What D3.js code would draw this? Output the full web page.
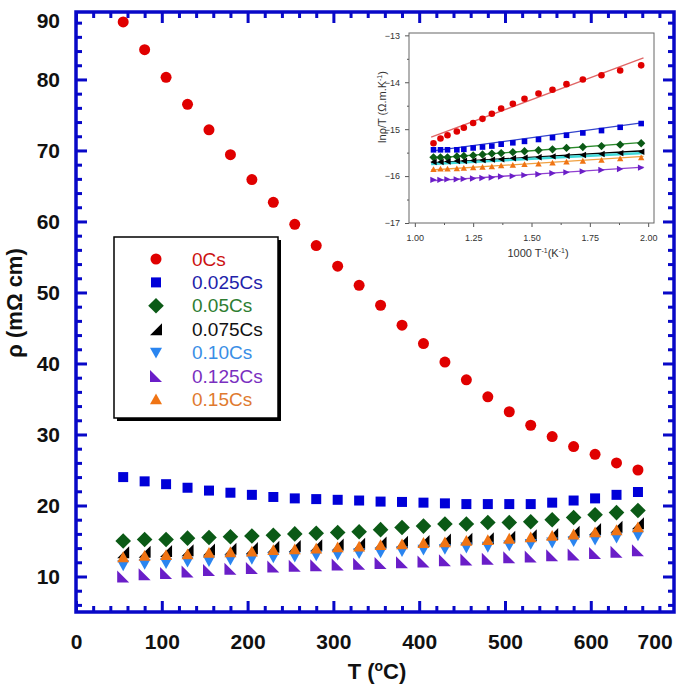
<!DOCTYPE html>
<html>
<head>
<meta charset="utf-8">
<script src="https://cdn.jsdelivr.net/npm/d3@7"></script>
<style>
  body { margin: 0; background: #fff; }
  text { font-family: "Liberation Sans", Arial, sans-serif; }
</style>
</head>
<body>
<div id="chart"></div>
<script>
// Main plot data: resistivity vs temperature
const temps = [55, 80, 105, 130, 155, 180, 205, 230, 255, 280, 305, 330, 355,
               380, 405, 430, 455, 480, 505, 530, 555, 580, 605, 630, 655];
const rho0Cs    = [88.1, 84.2, 80.3, 76.5, 72.9, 69.4, 65.9, 62.7, 59.6, 56.6, 53.7, 51.0, 48.2,
                   45.4, 42.8, 40.2, 37.7, 35.3, 33.2, 31.3, 29.7, 28.3, 27.2, 26.0, 25.0];
const rho0025Cs = [24.0, 23.4, 23.0, 22.5, 22.1, 21.8, 21.5, 21.2, 21.0, 20.9, 20.8, 20.7, 20.55,
                   20.5, 20.4, 20.3, 20.2, 20.2, 20.2, 20.2, 20.4, 20.7, 21.0, 21.5, 21.9];
const rho005Cs  = [15.0, 15.2, 15.2, 15.4, 15.5, 15.6, 15.7, 15.8, 16.0, 16.1, 16.2, 16.3, 16.6,
                   16.9, 17.1, 17.4, 17.4, 17.6, 17.6, 17.7, 18.0, 18.3, 18.7, 19.0, 19.3];
const rho0075Cs = [13.4, 13.5, 13.6, 13.7, 13.8, 13.9, 14.0, 14.2, 14.3, 14.4, 14.5, 14.6, 14.8,
                   14.9, 15.0, 15.2, 15.3, 15.4, 15.6, 15.8, 16.0, 16.3, 16.7, 17.0, 17.5];
const rho010Cs  = [11.6, 11.8, 11.9, 12.1, 12.2, 12.4, 12.5, 12.7, 12.8, 13.0, 13.1, 13.3, 13.4,
                   13.6, 13.8, 13.9, 14.1, 14.2, 14.4, 14.6, 14.8, 15.0, 15.2, 15.5, 15.8];
const rho0125Cs = [10.0, 10.3, 10.5, 10.7, 10.9, 11.1, 11.2, 11.4, 11.5, 11.6, 11.7, 11.8, 11.9,
                   12.0, 12.1, 12.3, 12.4, 12.5, 12.7, 12.8, 13.0, 13.1, 13.3, 13.5, 13.7];
const rho015Cs  = [12.7, 12.9, 13.0, 13.1, 13.3, 13.4, 13.5, 13.7, 13.8, 13.9, 14.1, 14.2, 14.4,
                   14.5, 14.7, 14.8, 15.0, 15.1, 15.3, 15.5, 15.7, 15.9, 16.2, 16.5, 16.9];

const xTicks = [0, 100, 200, 300, 400, 500, 600, 700];
const yTicks = [10, 20, 30, 40, 50, 60, 70, 80, 90];

// Inset data: ln(rho/T) vs 1000/T
const invT = [1.08, 1.11, 1.14, 1.18, 1.21, 1.25, 1.29, 1.33, 1.37,
              1.42, 1.47, 1.53, 1.59, 1.65, 1.72, 1.80, 1.88, 1.97];
const ln0Cs    = [-15.30, -15.20, -15.13, -15.05, -14.97, -14.87, -14.78, -14.67, -14.56,
                  -14.46, -14.35, -14.24, -14.16, -14.04, -13.94, -13.85, -13.75, -13.64];
const ln0025Cs = [-15.44, -15.44, -15.44, -15.44, -15.43, -15.40, -15.38, -15.36, -15.32,
                  -15.29, -15.26, -15.22, -15.18, -15.13, -15.08, -15.03, -14.96, -14.88];
const ln005Cs  = [-15.60, -15.60, -15.60, -15.58, -15.57, -15.56, -15.54, -15.52, -15.51,
                  -15.49, -15.47, -15.45, -15.43, -15.40, -15.38, -15.36, -15.33, -15.30];
const ln0075Cs = [-15.70, -15.70, -15.69, -15.68, -15.68, -15.67, -15.66, -15.65, -15.64,
                  -15.62, -15.61, -15.60, -15.58, -15.57, -15.55, -15.53, -15.51, -15.48];
const ln010Cs  = [-15.74, -15.74, -15.73, -15.72, -15.72, -15.71, -15.70, -15.69, -15.68,
                  -15.67, -15.66, -15.64, -15.63, -15.61, -15.60, -15.58, -15.56, -15.54];
const ln0125Cs = [-16.08, -16.08, -16.07, -16.07, -16.06, -16.05, -16.04, -16.03, -16.01,
                  -16.00, -15.98, -15.96, -15.94, -15.92, -15.90, -15.87, -15.85, -15.82];
const ln015Cs  = [-15.86, -15.85, -15.85, -15.84, -15.83, -15.82, -15.81, -15.80, -15.78,
                  -15.77, -15.75, -15.74, -15.72, -15.70, -15.68, -15.66, -15.63, -15.61];
// linear fit end points (at fitX)
const fitX = [1.07, 1.98];
const fit0Cs    = [-15.17, -13.48];
const fit0025Cs = [-15.47, -14.86];
const fit005Cs  = [-15.62, -15.28];
const fit0075Cs = [-15.72, -15.46];
const fit010Cs  = [-15.74, -15.51];
const fit0125Cs = [-16.10, -15.81];
const fit015Cs  = [-15.87, -15.58];

const insetXTicks = [1.00, 1.25, 1.50, 1.75, 2.00];
const insetYTicks = [-17, -16, -15, -14, -13];

const series = [
  { name: '0Cs',     rho: rho0Cs,    ln: ln0Cs,    fit: fit0Cs,    shape: 'circle',  inShape: 'circle',  color: '#e00000', text: '#cc1111', line: '#e06666' },
  { name: '0.025Cs', rho: rho0025Cs, ln: ln0025Cs, fit: fit0025Cs, shape: 'square',  inShape: 'square',  color: '#0000d8', text: '#2222aa', line: '#3344cc' },
  { name: '0.05Cs',  rho: rho005Cs,  ln: ln005Cs,  fit: fit005Cs,  shape: 'diamond', inShape: 'diamond', color: '#0b5a16', text: '#2e7d32', line: '#2a8a2a' },
  { name: '0.075Cs', rho: rho0075Cs, ln: ln0075Cs, fit: fit0075Cs, shape: 'triBR',   inShape: 'triLeft', color: '#000000', text: '#111111', line: '#000000' },
  { name: '0.10Cs',  rho: rho010Cs,  ln: ln010Cs,  fit: fit010Cs,  shape: 'triDown', inShape: 'triDown', color: '#2a85f0', text: '#3a8ee6', line: '#40d8d8' },
  { name: '0.125Cs', rho: rho0125Cs, ln: ln0125Cs, fit: fit0125Cs, shape: 'triBL',   inShape: 'triRight',color: '#6a1ec8', text: '#7a2fc0', line: '#9040d0' },
  { name: '0.15Cs',  rho: rho015Cs,  ln: ln015Cs,  fit: fit015Cs,  shape: 'triUp',   inShape: 'triUp',   color: '#f07414', text: '#e07a30', line: '#f0a040' }
];

function marker(shape, s) {
  switch (shape) {
    case 'circle':  return d3.symbol(d3.symbolCircle, Math.PI * s * s)();
    case 'square':  return `M${-s},${-s}H${s}V${s}H${-s}Z`;
    case 'diamond': return `M0,${-s * 1.3}L${s * 1.3},0L0,${s * 1.3}L${-s * 1.3},0Z`;
    case 'triBR':   return `M${s},${-s}L${s},${s}L${-s},${s}Z`;
    case 'triBL':   return `M${-s},${-s}L${s},${s}L${-s},${s}Z`;
    case 'triDown': return `M${-s},${-s * 0.8}L${s},${-s * 0.8}L0,${s}Z`;
    case 'triUp':   return `M0,${-s}L${s},${s * 0.8}L${-s},${s * 0.8}Z`;
    case 'triLeft': return `M${-s},0L${s},${-s}L${s},${s}Z`;
    case 'triRight':return `M${s},0L${-s},${-s}L${-s},${s}Z`;
  }
}

const W = 685, H = 699;
const svg = d3.select('#chart').append('svg').attr('width', W).attr('height', H);

// ---------- main plot ----------
const frameColor = '#0808c8';
const x = d3.scaleLinear().domain([0, 697]).range([76, 674]);
const y = d3.scaleLinear().domain([5, 89.5]).range([612, 12]);

function styleAxis(g) {
  g.select('.domain').remove();
  g.selectAll('.tick line').attr('stroke', frameColor).attr('stroke-width', 3);
  g.selectAll('text').attr('fill', '#111').attr('font-size', 21).attr('font-weight', 'bold');
}

const xMinor = d3.range(20, 697, 20).filter(v => v % 100 !== 0);
const yMinor = d3.range(6, 89.5, 2).filter(v => v % 10 !== 0);

// bottom
svg.append('g').attr('transform', `translate(0,${y.range()[0]})`)
  .call(d3.axisBottom(x).tickValues(xMinor).tickSize(-6).tickFormat(''))
  .call(styleAxis);
const bx = svg.append('g').attr('transform', `translate(0,${y.range()[0]})`)
  .call(d3.axisBottom(x).tickValues(xTicks).tickSize(-11).tickPadding(22).tickFormat(d3.format('d')))
  .call(styleAxis);
bx.selectAll('.tick').filter(d => d > x.domain()[1]).each(function() {
  d3.select(this).select('line').remove();
  d3.select(this).select('text').attr('dx', -22);
});
// top
svg.append('g').attr('transform', `translate(0,${y.range()[1]})`)
  .call(d3.axisTop(x).tickValues(xMinor).tickSize(-6).tickFormat(''))
  .call(styleAxis);
svg.append('g').attr('transform', `translate(0,${y.range()[1]})`)
  .call(d3.axisTop(x).tickValues(xTicks.filter(v => v < x.domain()[1])).tickSize(-11).tickFormat(''))
  .call(styleAxis);
// left
svg.append('g').attr('transform', `translate(${x.range()[0]},0)`)
  .call(d3.axisLeft(y).tickValues(yMinor).tickSize(-6).tickFormat(''))
  .call(styleAxis);
const ly = svg.append('g').attr('transform', `translate(${x.range()[0]},0)`)
  .call(d3.axisLeft(y).tickValues(yTicks).tickSize(-11).tickPadding(16).tickFormat(d3.format('d')))
  .call(styleAxis);
ly.selectAll('.tick').filter(d => d > y.domain()[1]).each(function() {
  d3.select(this).select('line').remove();
  d3.select(this).select('text').attr('dy', '0.9em');
});
// right
svg.append('g').attr('transform', `translate(${x.range()[1]},0)`)
  .call(d3.axisRight(y).tickValues(yMinor).tickSize(-6).tickFormat(''))
  .call(styleAxis);
svg.append('g').attr('transform', `translate(${x.range()[1]},0)`)
  .call(d3.axisRight(y).tickValues(yTicks.filter(v => v < y.domain()[1])).tickSize(-11).tickFormat(''))
  .call(styleAxis);

svg.append('rect')
  .attr('x', x.range()[0]).attr('y', y.range()[1])
  .attr('width', x.range()[1] - x.range()[0]).attr('height', y.range()[0] - y.range()[1])
  .attr('fill', 'none').attr('stroke', frameColor).attr('stroke-width', 3.5);

// axis titles
const xt = svg.append('text').attr('x', 377).attr('y', 679).attr('text-anchor', 'middle')
  .attr('font-size', 22).attr('font-weight', 'bold').attr('fill', '#111');
xt.append('tspan').text('T (');
xt.append('tspan').text('o').attr('font-size', 14).attr('dy', -8);
xt.append('tspan').text('C)').attr('dy', 8);

svg.append('text').attr('transform', 'translate(22,303) rotate(-90)').attr('text-anchor', 'middle')
  .attr('font-size', 22).attr('font-weight', 'bold').attr('fill', '#111')
  .text('ρ (mΩ cm)');

// data points
const pts = svg.append('g');
series.forEach(s => {
  const sz = s.shape === 'circle' ? 5.5 : s.shape === 'square' ? 5 : 6;
  pts.append('g').selectAll('path')
    .data(temps.map((t, i) => [t, s.rho[i]]))
    .join('path')
    .attr('transform', d => `translate(${x(d[0])},${y(d[1])})`)
    .attr('d', marker(s.shape, sz))
    .attr('fill', s.color);
});

// legend
const lg = svg.append('g');
lg.append('rect').attr('x', 117).attr('y', 240).attr('width', 164).attr('height', 181).attr('fill', '#000');
lg.append('rect').attr('x', 114).attr('y', 237).attr('width', 164).attr('height', 181)
  .attr('fill', '#fff').attr('stroke', '#000').attr('stroke-width', 1.5);
series.forEach((s, i) => {
  const yy = 259 + i * 23.4;
  const sz = s.shape === 'circle' ? 5.5 : s.shape === 'square' ? 5 : 6;
  lg.append('path').attr('transform', `translate(156,${yy})`).attr('d', marker(s.shape, sz)).attr('fill', s.color);
  lg.append('text').attr('x', 192).attr('y', yy).attr('dy', '0.35em')
    .attr('font-size', 19).attr('fill', s.text).text(s.name);
});

// ---------- inset ----------
const ix = d3.scaleLinear().domain([0.975, 2.025]).range([409, 654]);
const iy = d3.scaleLinear().domain([-17, -12.95]).range([223, 33]);
const inset = svg.append('g');

function styleInset(g) {
  g.select('.domain').remove();
  g.selectAll('.tick line').attr('stroke', '#555');
  g.selectAll('text').attr('fill', '#333').attr('font-size', 9);
}
inset.append('g').attr('transform', `translate(0,${iy.range()[0]})`)
  .call(d3.axisBottom(ix).tickValues(insetXTicks).tickSize(4).tickPadding(8).tickFormat(d3.format('.2f')))
  .call(styleInset);
inset.append('g').attr('transform', `translate(0,${iy.range()[0]})`)
  .call(d3.axisBottom(ix).tickValues(insetXTicks.slice(0, -1).map(v => v + 0.125)).tickSize(2).tickFormat(''))
  .call(styleInset);
inset.append('g').attr('transform', `translate(${ix.range()[0]},0)`)
  .call(d3.axisLeft(iy).tickValues(insetYTicks).tickSize(4).tickPadding(5).tickFormat(d3.format('d')))
  .call(styleInset);
inset.append('g').attr('transform', `translate(${ix.range()[0]},0)`)
  .call(d3.axisLeft(iy).tickValues(insetYTicks.slice(0, -1).map(v => v + 0.5)).tickSize(2).tickFormat(''))
  .call(styleInset);
inset.append('rect')
  .attr('x', ix.range()[0]).attr('y', iy.range()[1])
  .attr('width', ix.range()[1] - ix.range()[0]).attr('height', iy.range()[0] - iy.range()[1])
  .attr('fill', 'none').attr('stroke', '#666').attr('stroke-width', 1);

const ixt = inset.append('text').attr('x', 538).attr('y', 257).attr('text-anchor', 'middle')
  .attr('font-size', 11).attr('fill', '#333');
ixt.append('tspan').text('1000 T');
ixt.append('tspan').text('-1').attr('font-size', 7).attr('dy', -4);
ixt.append('tspan').text('(K').attr('dy', 4);
ixt.append('tspan').text('-1').attr('font-size', 7).attr('dy', -4);
ixt.append('tspan').text(')').attr('dy', 4);

const iyt = inset.append('text').attr('transform', 'translate(386,107) rotate(-90)')
  .attr('text-anchor', 'middle').attr('font-size', 11).attr('fill', '#333');
iyt.append('tspan').text('lnρ/T (Ω.m.K');
iyt.append('tspan').text('-1').attr('font-size', 7).attr('dy', -4);
iyt.append('tspan').text(')').attr('dy', 4);

const fitLine = d3.line().x(d => ix(d[0])).y(d => iy(d[1]));
series.forEach(s => {
  inset.append('path')
    .datum(fitX.map((v, i) => [v, s.fit[i]]))
    .attr('d', fitLine).attr('fill', 'none').attr('stroke', s.line)
    .attr('stroke-width', s.name === '0.10Cs' ? 2.5 : 1.3);
});
series.forEach(s => {
  if (s.name === '0.10Cs') return;
  const sz = s.inShape === 'circle' ? 3.3 : s.inShape === 'square' ? 2.8 : 3.2;
  inset.append('g').selectAll('path')
    .data(invT.map((v, i) => [v, s.ln[i]]))
    .join('path')
    .attr('transform', d => `translate(${ix(d[0])},${iy(d[1])})`)
    .attr('d', marker(s.inShape, sz))
    .attr('fill', s.color);
});
</script>
</body>
</html>
